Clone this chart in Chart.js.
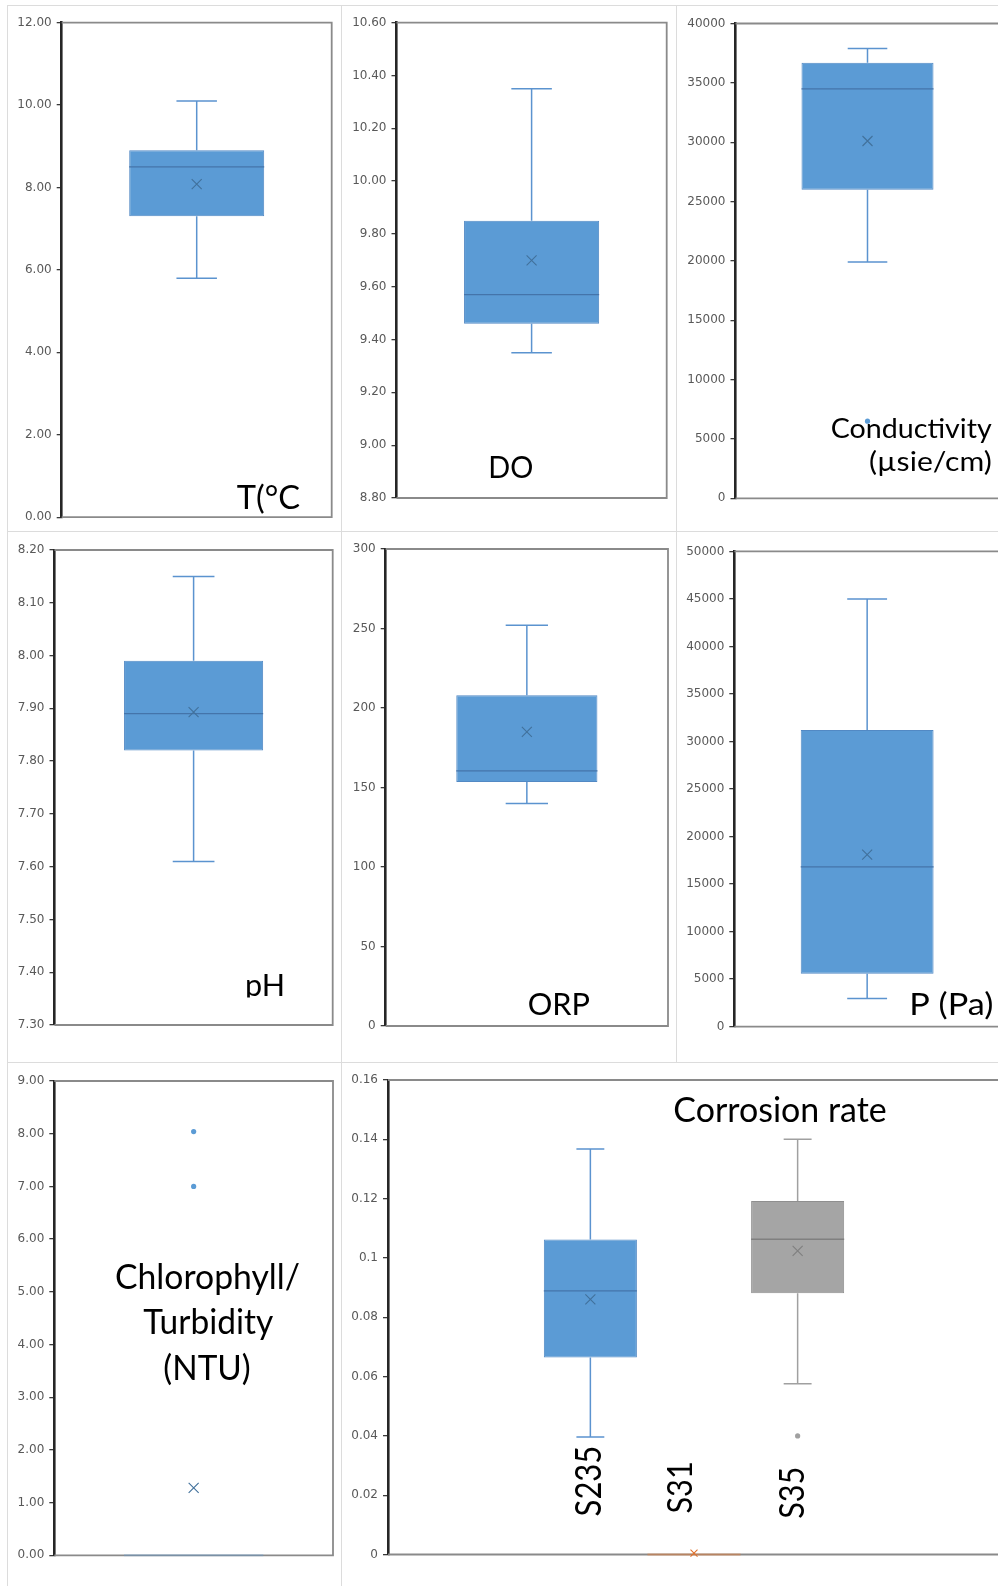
<!DOCTYPE html>
<html>
<head>
<meta charset="utf-8">
<script src="https://cdn.jsdelivr.net/npm/chart.js@4.4.1/dist/chart.umd.min.js"></script>
<style>
  html, body { margin: 0; padding: 0; background: #fff; }
  body { width: 998px; height: 1586px; position: relative; overflow: hidden; }
  canvas { position: absolute; }
  .rule { position: absolute; background: #dcdcdc; }
</style>
</head>
<body>
<div class="rule" style="left:7px;top:5px;width:991px;height:1px"></div>
<div class="rule" style="left:7px;top:5px;width:1px;height:1581px"></div>
<div class="rule" style="left:341px;top:5px;width:1px;height:1581px"></div>
<div class="rule" style="left:676px;top:5px;width:1px;height:1057px"></div>
<div class="rule" style="left:7px;top:531px;width:991px;height:1px"></div>
<div class="rule" style="left:7px;top:1062px;width:991px;height:1px"></div>

<canvas id="cTemp"></canvas>
<canvas id="cDo"></canvas>
<canvas id="cCond"></canvas>
<canvas id="cPh"></canvas>
<canvas id="cOrp"></canvas>
<canvas id="cPress"></canvas>
<canvas id="cTurb"></canvas>
<canvas id="cCorr"></canvas>

<script>
// ---- Data: five-number summaries are [min, Q1, median, Q3, max] ----
// Water temperature (°C)
const tempBox = [5.80, 7.30, 8.50, 8.90, 10.10];
const tempMean = 8.08;
const tempOutliers = [];
const tempAxis = [0, 12, 2];

// Dissolved oxygen
const doBox = [9.35, 9.46, 9.57, 9.85, 10.35];
const doMean = 9.70;
const doOutliers = [];
const doAxis = [8.8, 10.6, 0.2];

// Conductivity (µsie/cm)
const condBox = [19900, 26000, 34500, 36700, 37900];
const condMean = 30100;
const condOutliers = [6500];
const condAxis = [0, 40000, 5000];

// pH
const phBox = [7.61, 7.82, 7.89, 7.99, 8.15];
const phMean = 7.893;
const phOutliers = [];
const phAxis = [7.3, 8.2, 0.1];

// Oxidation-reduction potential
const orpBox = [140, 153.5, 160.5, 208, 252];
const orpMean = 185;
const orpOutliers = [];
const orpAxis = [0, 300, 50];

// Pressure (Pa)
const pressBox = [2950, 5550, 16800, 31200, 45000];
const pressMean = 18100;
const pressOutliers = [];
const pressAxis = [0, 50000, 5000];

// Chlorophyll / turbidity (NTU)
const turbBox = [0, 0, 0, 0, 0];
const turbMean = 1.28;
const turbOutliers = [7.00, 8.04];
const turbAxis = [0, 9, 1];

// Corrosion rate per steel grade
const corrSeries = ['S235', 'S31', 'S35'];
const corrBoxes = [
  [0.0396, 0.0664, 0.0889, 0.1062, 0.1367],
  [0, 0, 0, 0, 0],
  [0.0576, 0.0881, 0.1063, 0.1192, 0.1400]
];
const corrMeans = [0.086, 0.0005, 0.1024];
const corrOutliers = [[], [], [0.040]];
const corrAxis = [0, 0.16, 0.02];

// ---- Styles ----
const tones = {
  blue:   { fill: '#5b9bd5', edge: '#5289c4', median: '#4474aa', whisker: '#5b93cf', mean: '#41719c', markR: 5, dot: '#5b9bd5', flat: 'rgba(91,155,213,0.35)' },
  orange: { fill: '#ed7d31', edge: '#e07020', median: '#ed7d31', whisker: '#ed7d31', mean: '#e0702a', markR: 3.5, dot: '#ed7d31', flat: 'rgba(237,125,49,0.45)' },
  gray:   { fill: '#a5a5a5', edge: '#8f8f8f', median: '#808080', whisker: '#a0a0a0', mean: '#7f7f7f', markR: 5, dot: '#a0a0a0', flat: 'rgba(165,165,165,0.5)' }
};

const TEXT_FONT = 'Lato, "Open Sans", sans-serif';
const LATO_CAP = 0.7165;

// Text drawn into the plot with a given cap height, stretched to a given width
function drawNote(ctx, area, n) {
  const size = n.cap / LATO_CAP;
  ctx.save();
  ctx.font = size + 'px ' + TEXT_FONT;
  ctx.fillStyle = '#000';
  ctx.textBaseline = 'alphabetic';
  ctx.textAlign = 'left';
  const w = ctx.measureText(n.text).width;
  if (n.clip !== undefined) {
    ctx.beginPath();
    ctx.rect(area.left, area.top, area.right - area.left, n.y + n.clip);
    ctx.clip();
  }
  ctx.translate(area.left + n.x, area.top + n.y);
  if (n.rot) ctx.rotate(-Math.PI / 2);
  ctx.scale(n.width / w, 1);
  ctx.fillText(n.text, n.align === 'center' ? -w / 2 : 0, 0);
  ctx.restore();
}

function crossMark(ctx, x, y, r) {
  ctx.beginPath();
  ctx.moveTo(x - r, y - r); ctx.lineTo(x + r, y + r);
  ctx.moveTo(x + r, y - r); ctx.lineTo(x - r, y + r);
  ctx.stroke();
}

function boxPlugin(notes) {
  return {
    id: 'boxWhisker',
    beforeDatasetsDraw(chart) {
      const { ctx, chartArea: a, scales: { y } } = chart;
      // plot frame (top, right, bottom; the left side is the value axis)
      ctx.save();
      ctx.strokeStyle = '#8a8a8a';
      ctx.lineWidth = 1.8;
      ctx.beginPath();
      ctx.moveTo(a.left, a.top);
      ctx.lineTo(a.right, a.top);
      ctx.lineTo(a.right, a.bottom);
      ctx.lineTo(a.left, a.bottom);
      ctx.stroke();
      // whiskers sit behind the boxes
      chart.data.datasets.forEach((ds, i) => {
        const bar = chart.getDatasetMeta(i).data[0];
        const [mn, q1, , q3, mx] = ds.box;
        const t = tones[ds.tone];
        const cx = bar.x, half = bar.width * 0.15;
        ctx.strokeStyle = t.whisker;
        ctx.lineWidth = 1.5;
        ctx.beginPath();
        if (mx > q3) {
          ctx.moveTo(cx, y.getPixelForValue(q3)); ctx.lineTo(cx, y.getPixelForValue(mx));
          ctx.moveTo(cx - half, y.getPixelForValue(mx)); ctx.lineTo(cx + half, y.getPixelForValue(mx));
        }
        if (mn < q1) {
          ctx.moveTo(cx, y.getPixelForValue(q1)); ctx.lineTo(cx, y.getPixelForValue(mn));
          ctx.moveTo(cx - half, y.getPixelForValue(mn)); ctx.lineTo(cx + half, y.getPixelForValue(mn));
        }
        ctx.stroke();
      });
      ctx.restore();
    },
    afterDatasetsDraw(chart) {
      const { ctx, scales: { y } } = chart;
      ctx.save();
      chart.data.datasets.forEach((ds, i) => {
        const bar = chart.getDatasetMeta(i).data[0];
        const t = tones[ds.tone];
        const cx = bar.x, w = bar.width;
        const collapsed = ds.box[1] === ds.box[3];
        // median
        ctx.strokeStyle = collapsed ? t.flat : t.median;
        ctx.lineWidth = collapsed ? 2 : 1.3;
        ctx.beginPath();
        ctx.moveTo(cx - w / 2, y.getPixelForValue(ds.box[2]));
        ctx.lineTo(cx + w / 2, y.getPixelForValue(ds.box[2]));
        ctx.stroke();
        // mean
        ctx.strokeStyle = t.mean;
        ctx.lineWidth = 1.1;
        crossMark(ctx, cx, y.getPixelForValue(ds.mean), t.markR);
        // outliers
        ctx.fillStyle = t.dot;
        ds.outliers.forEach(v => {
          ctx.beginPath();
          ctx.arc(cx, y.getPixelForValue(v), 2.6, 0, Math.PI * 2);
          ctx.fill();
        });
      });
      ctx.restore();
    },
    afterDraw(chart) {
      notes.forEach(n => drawNote(chart.ctx, chart.chartArea, n));
    }
  };
}

function boxChart(id, cell, plot, series, axis, fmt, notes, groupShare, barShare) {
  const cv = document.getElementById(id);
  cv.width = cell[2]; cv.height = cell[3];
  cv.style.left = cell[0] + 'px'; cv.style.top = cell[1] + 'px';
  cv.style.width = cell[2] + 'px'; cv.style.height = cell[3] + 'px';
  const axisWidth = plot[0] - cell[0];
  return new Chart(cv, {
    type: 'bar',
    data: {
      labels: [''],
      datasets: series.map(s => ({
        label: s.name,
        data: [[s.box[1], s.box[3]]],
        box: s.box, mean: s.mean, outliers: s.outliers, tone: s.tone,
        backgroundColor: tones[s.tone].fill,
        borderColor: tones[s.tone].edge,
        borderWidth: 1,
        borderSkipped: false,
        categoryPercentage: groupShare,
        barPercentage: barShare
      }))
    },
    options: {
      responsive: false,
      maintainAspectRatio: false,
      animation: false,
      events: [],
      layout: {
        padding: {
          left: 0,
          top: plot[1] - cell[1],
          right: cell[0] + cell[2] - plot[2],
          bottom: cell[1] + cell[3] - plot[3]
        }
      },
      plugins: { legend: { display: false }, tooltip: { enabled: false } },
      scales: {
        x: { display: false, offset: true },
        y: {
          min: axis[0], max: axis[1],
          afterFit: s => { s.width = axisWidth; },
          ticks: {
            stepSize: axis[2],
            padding: 5,
            color: '#595959',
            font: { family: '"DejaVu Sans", Verdana, sans-serif', size: 12 },
            callback: v => fmt(v)
          },
          grid: { drawOnChartArea: false, drawTicks: true, tickLength: 5, color: '#3a3a3a', lineWidth: 1.3 },
          border: { color: '#262626', width: 2.6 }
        }
      }
    },
    plugins: [boxPlugin(notes)]
  });
}

const fixed2 = v => Number(v).toFixed(2);
const whole = v => String(Math.round(v));
const general = v => String(Math.round(v * 1000) / 1000);

const one = (box, mean, outliers) => [{ name: '', box, mean, outliers, tone: 'blue' }];

boxChart('cTemp', [8, 6, 333, 525], [61.7, 22.6, 331.7, 517.2],
  one(tempBox, tempMean, tempOutliers), tempAxis, fixed2,
  [{ text: 'T(°C', x: 175, y: 486.1, cap: 23.7, width: 63.3 }], 1, 0.5);

boxChart('cDo', [343, 6, 333, 525], [396.5, 22.6, 666.7, 498],
  one(doBox, doMean, doOutliers), doAxis, fixed2,
  [{ text: 'DO', x: 91.8, y: 455.7, cap: 22, width: 45 }], 1, 0.5);

boxChart('cCond', [678, 6, 330, 525], [735.5, 23.5, 999.5, 498.3],
  one(condBox, condMean, condOutliers), condAxis, whole,
  [{ text: 'Conductivity', x: 95.2, y: 414.2, cap: 19.3, width: 161 },
   { text: '(µsie/cm)', x: 133.5, y: 447, cap: 19.3, width: 122.7 }], 1, 0.5);

boxChart('cPh', [8, 533, 333, 528], [54.5, 550, 332.7, 1025],
  one(phBox, phMean, phOutliers), phAxis, fixed2,
  [{ text: 'pH', x: 190.5, y: 446, cap: 22.2, width: 40, clip: 1.5 }], 1, 0.5);

boxChart('cOrp', [343, 533, 333, 528], [385.7, 549, 668, 1026],
  one(orpBox, orpMean, orpOutliers), orpAxis, whole,
  [{ text: 'ORP', x: 142, y: 465.7, cap: 22.2, width: 62.3 }], 1, 0.5);

boxChart('cPress', [678, 533, 330, 528], [734.3, 551.4, 1000, 1026.6],
  one(pressBox, pressMean, pressOutliers), pressAxis, whole,
  [{ text: 'P (Pa)', x: 175, y: 463.3, cap: 22.2, width: 84 }], 1, 0.5);

boxChart('cTurb', [8, 1063, 333, 523], [54.3, 1081, 333, 1555.3],
  one(turbBox, turbMean, turbOutliers), turbAxis, fixed2,
  [{ text: 'Chlorophyll/', x: 153.2, y: 208, cap: 24.4, width: 185, align: 'center' },
   { text: 'Turbidity', x: 154, y: 253.2, cap: 24.4, width: 130, align: 'center' },
   { text: '(NTU)', x: 152.7, y: 298.5, cap: 24.4, width: 87.4, align: 'center' }], 1, 0.5);

const corrTones = ['blue', 'orange', 'gray'];
boxChart('cCorr', [343, 1063, 665, 523], [388, 1080, 1000, 1554.5],
  corrSeries.map((name, i) => ({ name, box: corrBoxes[i], mean: corrMeans[i], outliers: corrOutliers[i], tone: corrTones[i] })),
  corrAxis, general,
  [{ text: 'Corrosion rate', x: 285.3, y: 41.8, cap: 24.4, width: 213.5 },
   { text: corrSeries[0], x: 212.5, y: 436.4, cap: 26.6, width: 70.7, rot: true },
   { text: corrSeries[1], x: 304.3, y: 433.6, cap: 25.4, width: 52.3, rot: true },
   { text: corrSeries[2], x: 415.5, y: 438.8, cap: 25.4, width: 52.2, rot: true }],
  0.508, 0.898);
</script>
</body>
</html>
